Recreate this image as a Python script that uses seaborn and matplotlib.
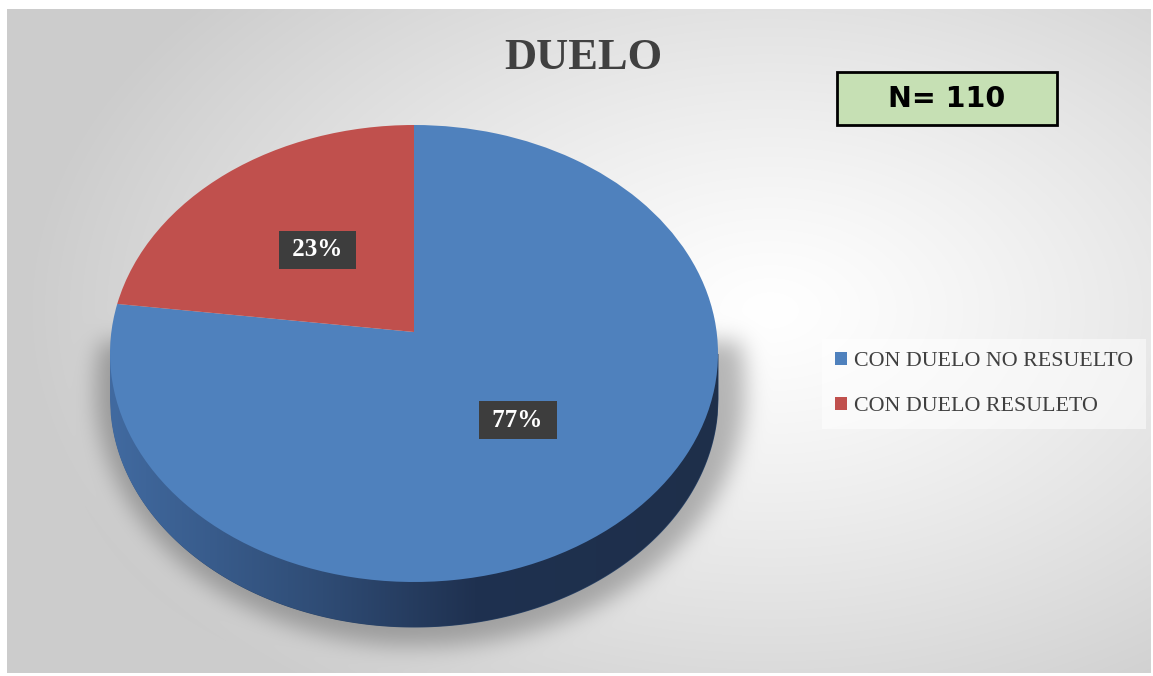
import numpy as np
import matplotlib.pyplot as plt
import seaborn as sns
from matplotlib.patches import Rectangle
from matplotlib.colors import LinearSegmentedColormap
from matplotlib.transforms import Transform

# datos del gráfico
categories = ['CON DUELO NO RESUELTO', 'CON DUELO RESULETO']
percentages = [77, 23]
slice_colors = ['#4F81BD', '#C0504D']
title_text = 'DUELO'
sample_text = 'N= 110'

W, H = 1153, 676

sns.set_style('white')
plt.rcParams['font.family'] = ['Liberation Serif', 'DejaVu Serif']


class Perspectiva(Transform):
    """Proyección en perspectiva del disco unitario (pastel inclinado)."""
    input_dims = 2
    output_dims = 2

    def __init__(self, s, p, k):
        super().__init__()
        self.s, self.p, self.k = s, p, k

    def transform_non_affine(self, values):
        values = np.asarray(values, dtype=float)
        u, v = values[:, 0], values[:, 1]
        den = 1 + self.k * v
        return np.column_stack([self.s * u / den, self.p * v / den])


def box_blur(a, k):
    # desenfoque simple con sumas acumuladas
    for axis in (0, 1):
        pad = [(k + 1, k) if i == axis else (0, 0) for i in range(2)]
        c = np.cumsum(np.pad(a, pad, mode='edge'), axis=axis)
        n = a.shape[axis]
        a = (np.take(c, range(2 * k + 1, 2 * k + 1 + n), axis=axis)
             - np.take(c, range(0, n), axis=axis)) / (2 * k + 1)
    return a


fig = plt.figure(figsize=(W / 100, H / 100), dpi=100)

# fondo con degradado radial y sombra suave
bg = fig.add_axes([0, 0, 1, 1])
yy, xx = np.mgrid[0:H, 0:W]
r = np.sqrt(((xx - 770) / 750) ** 2 + ((yy - 310) / 480) ** 2)
shade = 1 - 0.2 * np.clip(r, 0, 1) ** 1.2
mask = ((((xx - 420) / 325) ** 2 + ((yy - 388) / 258) ** 2) <= 1) & (yy > 340)
blur = mask.astype(float)
for _ in range(3):
    blur = box_blur(blur, 10)
shade = shade * (1 - 0.27 * blur)
img = np.ones((H, W, 3))
img[9:673, 7:1151, :] = shade[9:673, 7:1151, None]
bg.imshow(img, extent=[0, W, H, 0], aspect='auto', interpolation='bilinear')
bg.set_xlim(0, W)
bg.set_ylim(H, 0)
bg.axis('off')

# título y caja N
bg.text(583, 58, title_text, ha='center', va='center', fontsize=32,
        fontweight='bold', color='#404040')
bg.add_patch(Rectangle((837, 72), 220, 53, facecolor='#C6E0B4',
                       edgecolor='black', linewidth=2))
bg.text(947, 99, sample_text, ha='center', va='center', fontsize=20.5,
        fontweight='bold', family='DejaVu Sans', color='black')

# geometría del pastel (en píxeles, origen en el vértice del pastel)
top, bottom, half_w, depth = 207, 250, 304, 45
k = (bottom - top) / (bottom + top)
p = top * (1 + k)
s = half_w * np.sqrt(1 - k ** 2)
persp = Perspectiva(s, p, k)
cy = (top - bottom) / 2
ry = (top + bottom) / 2

ax = fig.add_axes([110 / W, (H - 627) / H, 608 / W, 502 / H])
wedges, texts, autotexts = ax.pie(
    percentages, colors=slice_colors, startangle=90, counterclock=False,
    autopct=lambda v: ' %1.0f%% ' % v, pctdistance=0.5,
    wedgeprops=dict(linewidth=0))
for w in wedges:
    w.set_transform(persp + ax.transData)
    w.set_zorder(2)

# lateral del pastel con degradado
x = np.linspace(-half_w, half_w, 800)
lower = cy - ry * np.sqrt(np.clip(1 - (x / half_w) ** 2, 0, 1)) - depth
poly = ax.fill_between(x, lower, cy, color='#2a4468', linewidth=0, zorder=0)
side_cmap = LinearSegmentedColormap.from_list(
    'side', [(0, '#416aa0'), (0.35, '#2f4c75'), (0.6, '#1f3150'), (1, '#1e2f4a')])
im = ax.imshow(np.linspace(0, 1, 256)[None, :],
               extent=[-half_w, half_w, cy - ry - depth, cy],
               cmap=side_cmap, aspect='auto', zorder=0.5)
im.set_clip_path(poly.get_paths()[0], transform=ax.transData)

for t in autotexts:
    t.set_transform(persp + ax.transData)
    t.set_zorder(3)
    t.set_color('white')
    t.set_fontsize(18)
    t.set_fontweight('bold')
    t.set_bbox(dict(boxstyle='square,pad=0.3', facecolor='#3d3d3d',
                    edgecolor='none'))

ax.set_aspect('auto')
ax.set_xlim(-half_w, half_w)
ax.set_ylim(-bottom - depth, top)
ax.axis('off')

leg = ax.legend(wedges, categories, loc='center left',
                bbox_to_anchor=(822 / W, 1 - 384 / H),
                bbox_transform=fig.transFigure, borderaxespad=0, fontsize=15.8,
                handlelength=0.55, handleheight=0.55, handletextpad=0.3,
                labelspacing=1.15, borderpad=0.6, fancybox=False,
                frameon=True, labelcolor='#404040')
leg.get_frame().set_facecolor('white')
leg.get_frame().set_alpha(0.5)
leg.get_frame().set_edgecolor('none')

fig.savefig('out.png', dpi=100)
